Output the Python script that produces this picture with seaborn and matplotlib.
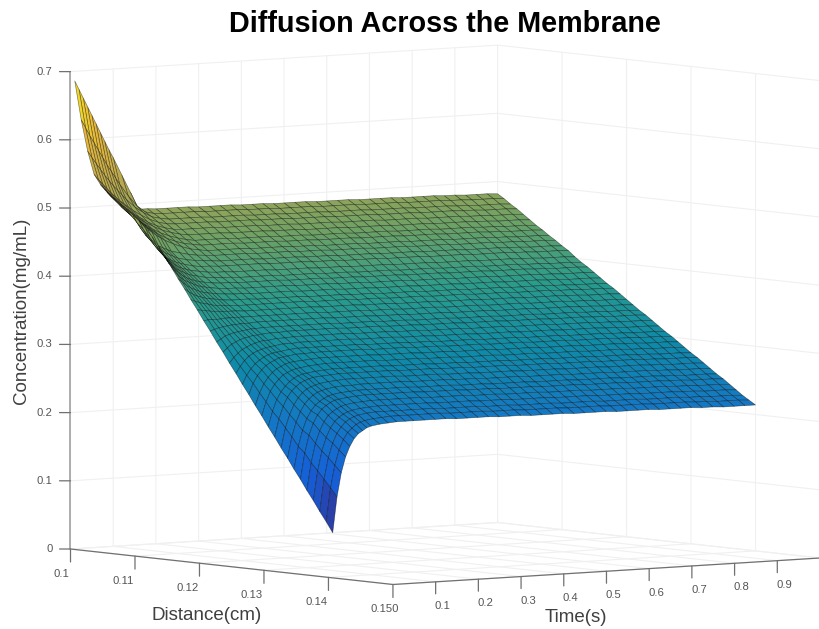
import numpy as np
import matplotlib
matplotlib.use('Agg')
import matplotlib.pyplot as plt
import seaborn as sns
from mpl_toolkits.mplot3d import proj3d

distance_cm = [0.100, 0.101, 0.102, 0.103, 0.104, 0.105, 0.106, 0.107, 0.108, 0.109, 0.110,
               0.111, 0.112, 0.113, 0.114, 0.115, 0.116, 0.117, 0.118, 0.119, 0.120,
               0.121, 0.122, 0.123, 0.124, 0.125, 0.126, 0.127, 0.128, 0.129, 0.130,
               0.131, 0.132, 0.133, 0.134, 0.135, 0.136, 0.137, 0.138, 0.139, 0.140]
time_s = [0.01, 0.02, 0.03, 0.04, 0.05, 0.06, 0.07, 0.08, 0.09, 0.10, 0.12, 0.14, 0.16, 0.18, 0.20,
          0.225, 0.25, 0.275, 0.30, 0.325, 0.35, 0.375, 0.40, 0.425, 0.45, 0.475, 0.50, 0.525, 0.55, 0.575, 0.60,
          0.625, 0.65, 0.675, 0.70, 0.725, 0.75, 0.775, 0.80, 0.825, 0.85, 0.875, 0.90, 0.925, 0.95, 0.975, 1.00]

# one row per distance, one column per time
concentration = [
    [.686,.673,.660,.647,.634,.621,.608,.595,.582,.570,.544,.518,.492,.492,.491,.491,.491,.491,.490,.490,.490,.490,.489,.489,.489,.488,.488,.488,.488,.487,.487,.487,.487,.486,.486,.486,.486,.485,.485,.485,.485,.484,.484,.483,.483,.483,.482],
    [.630,.618,.606,.595,.584,.573,.562,.552,.542,.532,.514,.499,.489,.486,.485,.485,.485,.485,.484,.484,.484,.484,.483,.483,.483,.482,.482,.482,.482,.481,.481,.481,.481,.480,.480,.480,.480,.479,.479,.479,.479,.478,.478,.477,.477,.477,.476],
    [.585,.575,.566,.557,.548,.540,.532,.525,.518,.511,.499,.490,.483,.480,.478,.478,.478,.478,.477,.477,.477,.477,.476,.476,.476,.475,.475,.475,.475,.474,.474,.474,.474,.473,.473,.473,.473,.472,.472,.472,.472,.471,.471,.470,.470,.470,.469],
    [.552,.544,.537,.530,.523,.517,.511,.506,.501,.496,.488,.481,.476,.473,.472,.472,.472,.472,.471,.471,.471,.471,.470,.470,.470,.469,.469,.469,.469,.468,.468,.468,.468,.467,.467,.467,.467,.466,.466,.466,.466,.465,.465,.464,.464,.464,.463],
    [.538,.531,.524,.518,.512,.506,.501,.496,.491,.487,.479,.473,.469,.466,.465,.465,.465,.465,.464,.464,.464,.464,.463,.463,.463,.462,.462,.462,.462,.461,.461,.461,.461,.460,.460,.460,.460,.459,.459,.459,.459,.458,.458,.457,.457,.457,.456],
    [.528,.521,.515,.509,.503,.498,.493,.488,.484,.480,.473,.467,.463,.460,.458,.458,.458,.458,.457,.457,.457,.457,.456,.456,.456,.455,.455,.455,.455,.454,.454,.454,.454,.453,.453,.453,.453,.452,.452,.452,.452,.451,.451,.450,.450,.450,.449],
    [.520,.513,.506,.500,.495,.490,.485,.480,.476,.472,.465,.460,.456,.453,.451,.451,.451,.451,.450,.450,.450,.450,.449,.449,.449,.448,.448,.448,.448,.447,.447,.447,.447,.446,.446,.446,.446,.445,.445,.445,.445,.444,.444,.443,.443,.443,.442],
    [.513,.506,.499,.493,.488,.483,.478,.473,.469,.465,.458,.453,.449,.447,.445,.445,.445,.445,.444,.444,.444,.444,.443,.443,.443,.442,.442,.442,.442,.441,.441,.441,.441,.440,.440,.440,.440,.439,.439,.439,.439,.438,.438,.437,.437,.437,.436],
    [.506,.498,.491,.485,.480,.475,.470,.465,.461,.457,.451,.446,.442,.440,.438,.438,.438,.438,.437,.437,.437,.437,.436,.436,.436,.435,.435,.435,.435,.434,.434,.434,.434,.433,.433,.433,.433,.432,.432,.432,.432,.431,.431,.430,.430,.430,.429],
    [.499,.487,.477,.468,.462,.456,.451,.448,.445,.442,.439,.436,.434,.433,.432,.432,.432,.432,.431,.431,.431,.431,.430,.430,.430,.429,.429,.429,.429,.428,.428,.428,.428,.427,.427,.427,.427,.426,.426,.426,.426,.425,.425,.424,.424,.424,.423],
    [.491,.478,.467,.459,.452,.446,.442,.439,.436,.433,.430,.428,.427,.426,.425,.425,.425,.425,.424,.424,.424,.424,.423,.423,.423,.422,.422,.422,.422,.421,.421,.421,.421,.420,.420,.420,.420,.419,.419,.419,.419,.418,.418,.417,.417,.417,.416],
    [.481,.467,.456,.448,.441,.436,.432,.429,.427,.425,.422,.420,.420,.419,.419,.419,.419,.419,.418,.418,.418,.418,.417,.417,.417,.416,.416,.416,.416,.415,.415,.415,.415,.414,.414,.414,.414,.413,.413,.413,.413,.412,.412,.411,.411,.411,.410],
    [.470,.457,.447,.439,.433,.428,.424,.421,.419,.417,.415,.413,.412,.412,.411,.411,.411,.411,.410,.410,.410,.410,.409,.409,.409,.408,.408,.408,.408,.407,.407,.407,.407,.406,.406,.406,.406,.405,.405,.405,.405,.404,.404,.403,.403,.403,.402],
    [.457,.445,.436,.429,.423,.419,.416,.413,.411,.410,.407,.406,.405,.405,.404,.404,.404,.404,.403,.403,.403,.403,.402,.402,.402,.401,.401,.401,.401,.400,.400,.400,.400,.399,.399,.399,.399,.398,.398,.398,.398,.397,.397,.396,.396,.396,.395],
    [.442,.432,.425,.419,.414,.410,.407,.405,.403,.402,.400,.399,.399,.398,.398,.398,.398,.398,.397,.397,.397,.397,.396,.396,.396,.395,.395,.395,.395,.394,.394,.394,.394,.393,.393,.393,.393,.392,.392,.392,.392,.391,.391,.390,.390,.390,.389],
    [.428,.420,.413,.408,.405,.402,.399,.397,.396,.395,.393,.392,.392,.391,.391,.391,.391,.391,.390,.390,.390,.390,.389,.389,.389,.388,.388,.388,.388,.387,.387,.387,.387,.386,.386,.386,.386,.385,.385,.385,.385,.384,.384,.383,.383,.383,.382],
    [.413,.407,.402,.398,.395,.392,.390,.389,.388,.387,.386,.385,.385,.384,.384,.384,.384,.384,.383,.383,.383,.383,.382,.382,.382,.381,.381,.381,.381,.380,.380,.380,.380,.379,.379,.379,.379,.378,.378,.378,.378,.377,.377,.376,.376,.376,.375],
    [.399,.394,.390,.387,.385,.383,.382,.381,.380,.379,.378,.378,.378,.377,.377,.377,.377,.377,.376,.376,.376,.376,.375,.375,.375,.374,.374,.374,.374,.373,.373,.373,.373,.372,.372,.372,.372,.371,.371,.371,.371,.370,.370,.369,.369,.369,.368],
    [.384,.381,.379,.377,.376,.374,.373,.373,.372,.372,.371,.371,.371,.371,.371,.371,.371,.371,.370,.370,.370,.370,.369,.369,.369,.368,.368,.368,.368,.367,.367,.367,.367,.366,.366,.366,.366,.365,.365,.365,.365,.364,.364,.363,.363,.363,.362],
    [.370,.369,.368,.367,.366,.366,.365,.365,.365,.365,.364,.364,.364,.364,.364,.364,.364,.364,.363,.363,.363,.363,.362,.362,.362,.361,.361,.361,.361,.360,.360,.360,.360,.359,.359,.359,.359,.358,.358,.358,.358,.357,.357,.356,.356,.356,.355],
    [.355,.356,.356,.356,.356,.357,.357,.357,.357,.357,.357,.357,.357,.357,.357,.357,.357,.357,.356,.356,.356,.356,.355,.355,.355,.354,.354,.354,.354,.353,.353,.353,.353,.352,.352,.352,.352,.351,.351,.351,.351,.350,.350,.349,.349,.349,.348],
    [.341,.343,.345,.346,.347,.348,.348,.349,.349,.349,.350,.350,.350,.350,.350,.350,.350,.350,.349,.349,.349,.349,.348,.348,.348,.347,.347,.347,.347,.346,.346,.346,.346,.345,.345,.345,.345,.344,.344,.344,.344,.343,.343,.342,.342,.342,.341],
    [.326,.330,.334,.336,.338,.339,.340,.341,.342,.342,.343,.343,.343,.343,.343,.343,.343,.343,.342,.342,.342,.342,.341,.341,.341,.340,.340,.340,.340,.339,.339,.339,.339,.338,.338,.338,.338,.337,.337,.337,.337,.336,.336,.335,.335,.335,.334],
    [.312,.318,.323,.326,.329,.331,.332,.334,.334,.335,.336,.336,.337,.337,.337,.337,.337,.337,.336,.336,.336,.336,.335,.335,.335,.334,.334,.334,.334,.333,.333,.333,.333,.332,.332,.332,.332,.331,.331,.331,.331,.330,.330,.329,.329,.329,.328],
    [.297,.305,.311,.316,.319,.322,.324,.326,.327,.327,.329,.329,.330,.330,.330,.330,.330,.330,.329,.329,.329,.329,.328,.328,.328,.327,.327,.327,.327,.326,.326,.326,.326,.325,.325,.325,.325,.324,.324,.324,.324,.323,.323,.322,.322,.322,.321],
    [.283,.293,.301,.307,.311,.314,.316,.318,.319,.320,.322,.322,.323,.323,.323,.323,.323,.323,.322,.322,.322,.322,.321,.321,.321,.320,.320,.320,.320,.319,.319,.319,.319,.318,.318,.318,.318,.317,.317,.317,.317,.316,.316,.315,.315,.315,.314],
    [.268,.281,.290,.297,.302,.306,.309,.311,.312,.313,.315,.316,.316,.316,.316,.316,.316,.316,.315,.315,.315,.315,.314,.314,.314,.313,.313,.313,.313,.312,.312,.312,.312,.311,.311,.311,.311,.310,.310,.310,.310,.309,.309,.308,.308,.308,.307],
    [.254,.270,.281,.289,.295,.299,.302,.305,.306,.307,.309,.309,.310,.310,.310,.310,.310,.310,.309,.309,.309,.309,.308,.308,.308,.307,.307,.307,.307,.306,.306,.306,.306,.305,.305,.305,.305,.304,.304,.304,.304,.303,.303,.302,.302,.302,.301],
    [.239,.257,.270,.279,.286,.291,.294,.297,.299,.300,.301,.302,.303,.303,.303,.303,.303,.303,.302,.302,.302,.302,.301,.301,.301,.300,.300,.300,.300,.299,.299,.299,.299,.298,.298,.298,.298,.297,.297,.297,.297,.296,.296,.295,.295,.295,.294],
    [.225,.245,.260,.270,.277,.283,.286,.289,.291,.292,.294,.295,.296,.296,.296,.296,.296,.296,.295,.295,.295,.295,.294,.294,.294,.293,.293,.293,.293,.292,.292,.292,.292,.291,.291,.291,.291,.290,.290,.290,.290,.289,.289,.288,.288,.288,.287],
    [.210,.232,.249,.260,.268,.274,.279,.282,.284,.285,.287,.288,.289,.289,.289,.289,.289,.289,.288,.288,.288,.288,.287,.287,.287,.286,.286,.286,.286,.285,.285,.285,.285,.284,.284,.284,.284,.283,.283,.283,.283,.282,.282,.281,.281,.281,.280],
    [.196,.222,.240,.253,.262,.268,.273,.276,.278,.280,.281,.282,.283,.283,.283,.283,.283,.283,.282,.282,.282,.282,.281,.281,.281,.280,.280,.280,.280,.279,.279,.279,.279,.278,.278,.278,.278,.277,.277,.277,.277,.276,.276,.275,.275,.275,.274],
    [.181,.210,.229,.243,.253,.260,.265,.268,.270,.272,.274,.275,.276,.276,.276,.276,.276,.276,.275,.275,.275,.275,.274,.274,.274,.273,.273,.273,.273,.272,.272,.272,.272,.271,.271,.271,.271,.270,.270,.270,.270,.269,.269,.268,.268,.268,.267],
    [.167,.198,.219,.234,.245,.252,.257,.261,.263,.265,.267,.268,.268,.269,.269,.269,.269,.269,.268,.268,.268,.268,.267,.267,.267,.266,.266,.266,.266,.265,.265,.265,.265,.264,.264,.264,.264,.263,.263,.263,.263,.262,.262,.261,.261,.261,.260],
    [.152,.185,.208,.225,.236,.244,.249,.253,.256,.258,.260,.261,.262,.262,.262,.262,.262,.262,.261,.261,.261,.261,.260,.260,.260,.259,.259,.259,.259,.258,.258,.258,.258,.257,.257,.257,.257,.256,.256,.256,.256,.255,.255,.254,.254,.254,.253],
    [.138,.176,.202,.219,.231,.239,.244,.248,.251,.252,.254,.255,.256,.256,.256,.256,.256,.256,.255,.255,.255,.255,.254,.254,.254,.253,.253,.253,.253,.252,.252,.252,.252,.251,.251,.251,.251,.250,.250,.250,.250,.249,.249,.248,.248,.248,.247],
    [.123,.163,.191,.209,.222,.231,.236,.240,.243,.245,.247,.248,.249,.249,.249,.249,.249,.249,.248,.248,.248,.248,.247,.247,.247,.246,.246,.246,.246,.245,.245,.245,.245,.244,.244,.244,.244,.243,.243,.243,.243,.242,.242,.241,.241,.241,.240],
    [.109,.152,.181,.200,.214,.223,.229,.233,.236,.238,.240,.241,.242,.242,.242,.242,.242,.242,.241,.241,.241,.241,.240,.240,.240,.239,.239,.239,.239,.238,.238,.238,.238,.237,.237,.237,.237,.236,.236,.236,.236,.235,.235,.234,.234,.234,.233],
    [.094,.141,.172,.193,.207,.216,.223,.227,.230,.232,.234,.235,.235,.235,.235,.235,.235,.235,.234,.234,.234,.234,.233,.233,.233,.232,.232,.232,.232,.231,.231,.231,.231,.230,.230,.230,.230,.229,.229,.229,.229,.228,.228,.227,.227,.227,.226],
    [.080,.129,.162,.184,.199,.209,.215,.220,.223,.225,.227,.228,.229,.229,.229,.229,.229,.229,.228,.228,.228,.228,.227,.227,.227,.226,.226,.226,.226,.225,.225,.225,.225,.224,.224,.224,.224,.223,.223,.223,.223,.222,.222,.221,.221,.221,.220],
    [.065,.117,.152,.175,.190,.201,.208,.212,.216,.218,.220,.221,.222,.222,.222,.222,.222,.222,.221,.221,.221,.221,.220,.220,.220,.219,.219,.219,.219,.218,.218,.218,.218,.217,.217,.217,.217,.216,.216,.216,.216,.215,.215,.214,.214,.214,.214],
]

distance_ticks = [0.10, 0.11, 0.12, 0.13, 0.14, 0.15]
distance_labels = ['0.1', '0.11', '0.12', '0.13', '0.14', '0.150']
time_ticks = [0.1, 0.2, 0.3, 0.4, 0.5, 0.6, 0.7, 0.8, 0.9]
time_labels = ['0.1', '0.2', '0.3', '0.4', '0.5', '0.6', '0.7', '0.8', '0.9']
conc_ticks = [0, 0.1, 0.2, 0.3, 0.4, 0.5, 0.6, 0.7]
conc_labels = ['0', '0.1', '0.2', '0.3', '0.4', '0.5', '0.6', '0.7']

parula = ['#352a87', '#1560d8', '#1478c4', '#0f8ba8', '#2a9c8c',
          '#6fa264', '#b5a850', '#e8b838', '#f6ec20']

sns.set_theme(style='white')
plt.rcParams['font.family'] = ['Liberation Sans', 'DejaVu Sans']
cmap = sns.blend_palette(parula, n_colors=256, as_cmap=True)

W, H = 820, 629
SIDE = 900
fig = plt.figure(figsize=(W / 100, H / 100), dpi=100, facecolor='white')
ax = fig.add_axes([(W - SIDE) / 2 / W, (H - SIDE) / 2 / H, SIDE / W, SIDE / H], projection='3d')
ax.patch.set_alpha(0)
ax.set_proj_type('ortho')
ax.view_init(elev=4.74, azim=-36.9)
ax.set_xlim(0.10, 0.15, view_margin=0)
ax.set_ylim(0, 1, view_margin=0)
ax.set_zlim(0, 0.7, view_margin=0)
ax.set_box_aspect((537, 534, 479), zoom=1)


def to_px(x, y, z):
    px, py, _ = proj3d.proj_transform(x, y, z, ax.get_proj())
    return ax.transData.transform((px, py))


# size and place the box so its floor corners land where they do in the reference
fig.canvas.draw()
span = to_px(0.15, 1, 0)[0] - to_px(0.10, 0, 0)[0]
ax.set_box_aspect((537, 534, 479), zoom=749.5 / span)
fig.canvas.draw()
mid = (to_px(0.10, 0, 0) + to_px(0.15, 1, 0)) / 2
pos = ax.get_position(original=True)
ax.set_position([pos.x0 + (445.25 - mid[0]) / W, pos.y0 + (75.5 - mid[1]) / H, pos.width, pos.height])
fig.canvas.draw()

ax.set_xticks(distance_ticks, labels=[''] * len(distance_ticks))
ax.set_yticks([0] + time_ticks + [1], labels=[''] * 11)
ax.set_zticks(conc_ticks, labels=[''] * len(conc_ticks))
for axis in (ax.xaxis, ax.yaxis, ax.zaxis):
    axis.set_pane_color((1, 1, 1, 0))
    axis.pane.set_edgecolor((1, 1, 1, 0))
    axis.line.set_color((1, 1, 1, 0))
    axis._axinfo['tick']['inward_factor'] = 0
    axis._axinfo['tick']['outward_factor'] = 0
    axis._axinfo['grid'].update(color='#f0f0f0', linewidth=0.8)

T, D = np.meshgrid(time_s, distance_cm)
ax.plot_surface(D, T, np.array(concentration), cmap=cmap, vmin=0.065, vmax=0.686,
                rstride=1, cstride=1, edgecolor=(0, 0, 0, 0.5), linewidth=0.45, shade=False)

axis_color = '#707070'
ax.plot([0.10, 0.15], [0, 0], [0, 0], color=axis_color, lw=0.9)
ax.plot([0.15, 0.15], [0, 1], [0, 0], color=axis_color, lw=0.9)
ax.plot([0.10, 0.10], [0, 0], [0, 0.7], color='#a0a0a0', lw=1.2)


def mark(x, y, z, label, tick, text, ha='center'):
    xy = proj3d.proj_transform(x, y, z, ax.get_proj())[:2]
    ax.annotate('', xy=xy, xytext=tick, textcoords='offset pixels', annotation_clip=False,
                arrowprops=dict(arrowstyle='-', color=axis_color, lw=0.9, shrinkA=0, shrinkB=0))
    ax.annotate(label, xy=xy, xytext=text, textcoords='offset pixels', annotation_clip=False,
                ha=ha, va='center', fontsize=8.1, color='#555555')


distance_dx = [-9, -12, -12, -12, -12, -8]
for d, lab, dx in zip(distance_ticks, distance_labels, distance_dx):
    mark(d, 0, 0, lab, (0, -13), (dx, -25))
for t, lab in zip(time_ticks, time_labels):
    mark(0.15, t, 0, lab, (0, -12), (7, -24))
for c, lab in zip(conc_ticks, conc_labels):
    mark(0.10, 0, c, lab, (-11, 0), (-18, 0), ha='right')

fig.text(445 / W, 1 - 24 / H, 'Diffusion Across the Membrane', ha='center', va='center',
         fontsize=20.7, fontweight='bold', color='black')
fig.text(207 / W, 1 - 616 / H, 'Distance(cm)', ha='center', va='center', fontsize=13.5, color='#404040')
fig.text(576 / W, 1 - 618 / H, 'Time(s)', ha='center', va='center', fontsize=13.5, color='#404040')
fig.text(22 / W, 1 - 311 / H, 'Concentration(mg/mL)', ha='center', va='center', rotation=90,
         fontsize=13.5, color='#404040')

fig.savefig('out.png', dpi=100)
